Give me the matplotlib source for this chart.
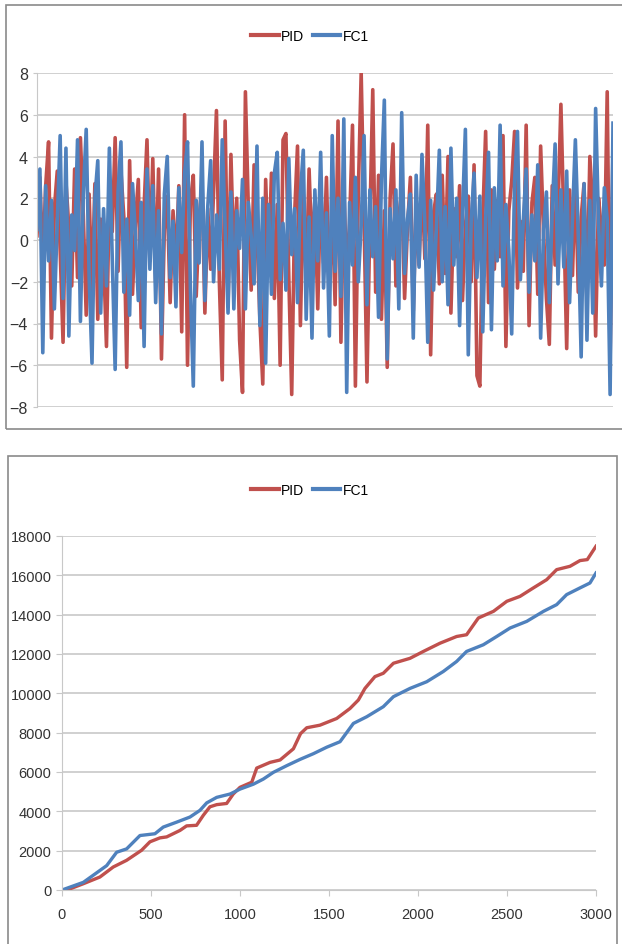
import matplotlib.pyplot as plt
from matplotlib.patches import Rectangle

# ---- top chart: signal per step (PID vs FC1) ----
pid_signal = [
    0.2, 3.0, -1.2, 2.6, 4.7, -4.7, 1.5, 3.3, -0.5, -4.9, 2.8, 0.6, -2.2, 3.4, -1.8, 4.9, 1.2, -3.6, 2.2, -2.5,
    2.7, -3.8, 1.0, -0.8, -5.1, 2.2, 0.4, 4.9, -1.5, 3.3, 1.1, -6.1, 3.8, -2.6, 0.8, 2.9, -4.2, 1.6, 4.8, -1.0,
    3.9, -2.0, 3.4, -5.7, 0.5, 2.1, -3.0, 1.4, -1.2, 2.6, -4.4, 6.0, -6.0, 1.8, 3.1, -2.7, 0.9, 2.8, -3.5, 1.5,
    -1.4, 2.3, 6.2, -2.0, -6.7, 5.7, -3.2, 4.1, -1.0, 2.0, -4.8, -7.3, 7.1, 1.6, -2.4, 3.6, 0.4, -3.8, -6.9, 2.9,
    -1.5, 3.2, -2.8, 1.7, -6.0, 4.8, 5.1, -1.8, -7.4, 1.2, 4.5, -4.1, 2.2, -2.0, 3.4, -0.6, 1.9, -3.3, 2.6, -1.1,
    3.0, -2.4, 1.5, -3.1, 5.7, -4.9, 2.5, -1.6, 0.8, 5.5, -7.0, 2.2, 8.0, 1.0, -6.8, 0.9, 7.2, -2.5, 3.1, -3.8,
    1.4, -6.1, 2.0, 4.6, -2.2, 1.1, 2.4, -2.8, 0.6, 3.0, -3.4, 1.7, -1.2, 2.8, -0.9, 5.5, -5.5, 1.3, 2.2, -2.1,
    3.1, -1.6, 4.0, -3.5, 1.5, -0.8, 2.6, -2.9, 0.7, 2.1, -2.0, 3.6, -6.5, -7.0, 1.0, 5.2, -3.0, 2.4, -1.4, 1.9,
    -0.8, 5.0, -5.1, 1.4, 2.8, 5.2, -2.3, 0.9, -1.5, 5.5, -4.1, 1.8, 3.0, -2.6, 4.5, 0.4, -2.8, -5.0, 2.6, -1.2,
    1.5, 6.5, 1.0, -5.2, 2.4, -1.7, 3.2, -2.5, 1.1, 2.7, -3.0, 4.0, 1.6, -4.6, 2.0, 0.5, -1.2, 7.1, -5.7, 4.4,
]
fc1_signal = [
    0.5, 3.4, -5.4, 2.6, -1.0, 1.9, -3.3, 0.8, 5.0, -2.8, 4.4, -4.6, 1.2, -0.5, 4.8, -3.9, 2.2, 5.3, -1.7, -5.9,
    2.0, 3.8, -3.5, 1.5, -2.2, 4.4, -0.9, -6.2, 2.3, 4.7, -2.5, 1.0, -3.6, 2.7, 0.3, -2.9, 1.8, -5.1, 3.4, -1.4,
    2.6, -3.0, 1.4, -4.5, 2.2, 4.0, -1.8, 0.9, -3.2, 2.5, -0.6, 3.2, 4.7, -2.3, -7.0, 1.9, -1.1, 4.7, -2.9, 1.6,
    3.8, -2.0, 1.2, -1.4, 4.8, 0.6, -3.5, 2.3, -3.3, 1.4, -0.4, 2.9, -3.3, 1.8, 0.2, -2.1, 4.5, -4.1, 2.0, -5.9,
    1.7, -2.6, 3.2, 4.2, -1.9, 0.8, -2.4, 3.9, -0.7, 1.5, -3.0, 2.2, 4.3, -3.8, 1.1, -4.7, 2.4, -1.0, 4.2, -2.3,
    1.3, -4.6, 5.0, -1.5, 2.0, -2.7, 5.8, -7.3, 1.8, -1.2, 3.0, -2.0, 0.7, 5.0, -3.1, 2.4, -0.8, 1.6, -3.7, 2.9,
    6.7, -5.7, 1.5, -0.9, 2.4, -3.3, 6.1, -1.6, 1.0, 2.2, -4.7, 3.1, -1.3, 4.1, 0.8, -4.9, 1.9, -2.4, 0.6, 4.3,
    -2.0, 1.6, -3.1, 4.4, -1.2, 2.0, -4.1, 1.3, 5.3, -5.5, 0.9, 3.2, -1.8, 2.1, -4.4, 1.0, 4.2, -4.3, 2.5, -1.0,
    5.5, -2.2, 1.7, -0.5, -4.5, 2.8, 5.2, -1.9, 0.9, 3.4, -2.5, 1.2, -1.0, 3.6, -4.7, 0.5, 2.3, -3.0, 1.4, 4.6,
    -2.1, 2.4, -1.3, 3.3, -3.0, 1.1, 4.8, 0.2, -5.6, 2.7, -4.8, 1.9, -3.5, 6.3, 0.8, -2.2, 2.5, 1.0, -7.4, 5.6,
]

# ---- bottom chart: cumulative values ----
pid_cum_x = [0, 28, 120, 213, 288, 363, 447, 494, 550, 588, 663, 700, 756, 794, 831, 869, 925, 962, 1000,
             1066, 1094, 1169, 1225, 1300, 1340, 1375, 1449, 1543, 1618, 1665, 1702, 1758, 1805, 1862, 1955,
             2030, 2124, 2217, 2273, 2339, 2424, 2499, 2573, 2648, 2723, 2779, 2854, 2910, 2951, 3000]
pid_cum_y = [0, 0, 320, 660, 1170, 1510, 2020, 2450, 2650, 2700, 3030, 3260, 3290, 3800, 4230, 4340, 4400,
             4880, 5220, 5480, 6200, 6490, 6610, 7180, 7950, 8250, 8380, 8720, 9230, 9660, 10250, 10850,
             11020, 11530, 11780, 12130, 12550, 12890, 12980, 13830, 14170, 14680, 14930, 15360, 15780,
             16290, 16460, 16750, 16800, 17480]
fc1_cum_x = [0, 120, 251, 307, 363, 438, 522, 569, 644, 719, 775, 813, 869, 944, 1000, 1075, 1131, 1187,
             1262, 1337, 1412, 1487, 1562, 1637, 1712, 1805, 1862, 1955, 2049, 2142, 2217, 2273, 2367, 2442,
             2517, 2611, 2705, 2779, 2835, 2910, 2966, 3000]
fc1_cum_y = [0, 390, 1240, 1920, 2090, 2770, 2860, 3200, 3450, 3710, 4050, 4430, 4710, 4880, 5130, 5380,
             5640, 5980, 6320, 6640, 6930, 7260, 7540, 8470, 8810, 9320, 9830, 10250, 10590, 11110, 11620,
             12130, 12470, 12890, 13320, 13660, 14170, 14510, 15020, 15360, 15610, 16120]

RED = '#C0504D'
BLUE = '#4F81BD'
GRID = '#C8C8C8'
plt.rcParams['font.family'] = ['Liberation Sans', 'DejaVu Sans']

W, H = 622, 945
fig = plt.figure(figsize=(W / 100, H / 100), dpi=100)

def fx(px):
    return px / W

def fy(py):
    return 1 - py / H

# chart frames
fig.patches.append(Rectangle((fx(6), fy(430)), fx(640) - fx(6), fy(6) - fy(430),
                             transform=fig.transFigure, fill=False, ec='#8A8A8A', lw=1.2))
fig.patches.append(Rectangle((fx(8), fy(960)), fx(617) - fx(8), fy(457) - fy(960),
                             transform=fig.transFigure, fill=False, ec='#8A8A8A', lw=1.2))

leg_kw = dict(loc='center', bbox_transform=fig.transFigure, ncol=2, frameon=False,
              fontsize=10, handlelength=2.0, columnspacing=0.6, handletextpad=0.15)

# ---- top axes ----
ax1 = fig.add_axes([fx(37), fy(408), fx(613) - fx(37), fy(74) - fy(408)])
steps = list(range(len(pid_signal)))
ax1.plot(steps, pid_signal, color=RED, lw=2.6, label='PID')
ax1.plot(steps, fc1_signal, color=BLUE, lw=2.6, label='FC1')
ax1.set_xlim(0, len(pid_signal) - 1)
ax1.set_ylim(-8, 8)
ax1.set_yticks(range(-8, 9, 2))
ax1.set_xticks([])
ax1.grid(axis='y', color=GRID, lw=1.2)
ax1.set_axisbelow(True)
for s in ['top', 'right', 'bottom']:
    ax1.spines[s].set_visible(False)
ax1.spines['left'].set_color(GRID)
ax1.tick_params(axis='y', length=3, color=GRID, labelsize=11.5, labelcolor='#333333')
leg1 = ax1.legend(bbox_to_anchor=(fx(310), fy(37)), **leg_kw)
for h in leg1.get_lines():
    h.set_linewidth(3)

# ---- bottom axes ----
ax2 = fig.add_axes([fx(62), fy(891), fx(596) - fx(62), fy(537) - fy(891)])
ax2.plot(pid_cum_x, pid_cum_y, color=RED, lw=2.4, label='PID')
ax2.plot(fc1_cum_x, fc1_cum_y, color=BLUE, lw=2.4, label='FC1')
ax2.set_xlim(0, 3000)
ax2.set_ylim(0, 18000)
ax2.set_xticks(range(0, 3001, 500))
ax2.set_yticks(range(0, 18001, 2000))
ax2.grid(axis='y', color=GRID, lw=1.2)
ax2.set_axisbelow(True)
for s in ['top', 'right']:
    ax2.spines[s].set_visible(False)
ax2.spines['left'].set_color(GRID)
ax2.spines['bottom'].set_color(GRID)
ax2.tick_params(length=4, color=GRID, labelsize=10.5, labelcolor='#333333')
ax2.tick_params(axis='x', pad=8)
leg2 = ax2.legend(bbox_to_anchor=(fx(310), fy(491)), **leg_kw)
for h in leg2.get_lines():
    h.set_linewidth(3)

fig.savefig('out.png', dpi=100)
